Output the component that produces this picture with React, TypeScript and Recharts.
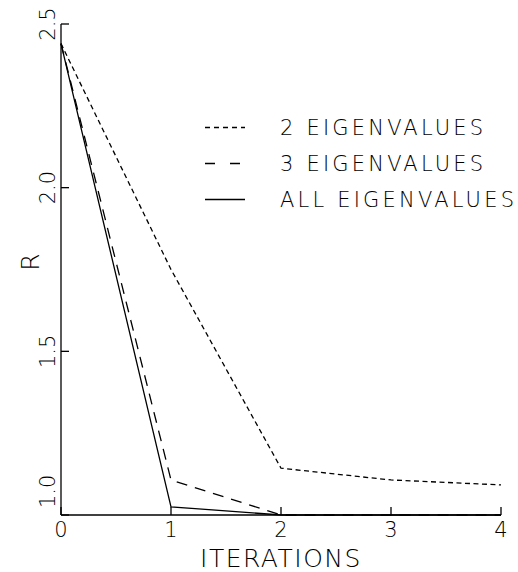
import React from 'react';
import { LineChart, Line, XAxis, YAxis, Customized } from 'recharts';

const iterations = [0, 1, 2, 3, 4];
const twoEigenvalues = [2.44, 1.75, 1.143, 1.107, 1.092];
const threeEigenvalues = [2.44, 1.107, 1.0, 1.0, 1.0];
const allEigenvalues = [2.44, 1.025, 1.0, 1.0, 1.0];
const xTicks = [0, 1, 2, 3, 4];
const yTicks = [1.0, 1.5, 2.0, 2.5];
const seriesNames = ['2 EIGENVALUES', '3 EIGENVALUES', 'ALL EIGENVALUES'];
const seriesKeys = ['two', 'three', 'all'];
const seriesDash = ['5 3.5', '11 8', undefined];
const legendDash = ['5 4', '10 15', undefined];

const data = iterations.map((it, i) => ({
  it,
  two: twoEigenvalues[i],
  three: threeEigenvalues[i],
  all: allEigenvalues[i],
}));

const FONT = '"DejaVu Sans", sans-serif';
const WEIGHT = 200;

const XTick = (props: any) => {
  const { x, y, payload } = props;
  return (
    <g>
      <line x1={x} y1={y} x2={x} y2={y - 8} stroke="#000" strokeWidth={1.3} />
      <text x={x} y={y + 22} textAnchor="middle" fontFamily={FONT} fontWeight={WEIGHT} fontSize={21} fill="#000">
        {String(payload.value)}
      </text>
    </g>
  );
};

const YTick = (props: any) => {
  const { x, y, payload, index } = props;
  const tx = x - 6;
  const first = index === 0;
  const ty = first ? y - 7 : y;
  return (
    <g>
      <line x1={x} y1={y} x2={x + 8} y2={y} stroke="#000" strokeWidth={1.3} />
      <text
        x={tx}
        y={ty}
        transform={`rotate(-90, ${tx}, ${ty})`}
        textAnchor={first ? 'start' : 'middle'}
        fontFamily={FONT}
        fontWeight={WEIGHT}
        fontSize={21}
        fill="#000"
      >
        {Number(payload.value).toFixed(1)}
      </text>
    </g>
  );
};

const LegendBlock = () => (
  <g>
    {seriesNames.map((name, i) => {
      const base = 135 + i * 36;
      return (
        <g key={name}>
          <line
            x1={205}
            x2={245}
            y1={base - 7.5}
            y2={base - 7.5}
            stroke="#000"
            strokeWidth={1.3}
            strokeDasharray={legendDash[i]}
          />
          <text x={280} y={base} fontFamily={FONT} fontWeight={WEIGHT} fontSize={21} letterSpacing={3.2} fill="#000">
            {name}
          </text>
        </g>
      );
    })}
  </g>
);

const YLabel = () => (
  <text
    x={39}
    y={262}
    transform="rotate(-90, 39, 262)"
    textAnchor="middle"
    fontFamily={FONT}
    fontWeight={WEIGHT}
    fontSize={25}
    fill="#000"
  >
    R
  </text>
);

export default function App() {
  return (
    <div style={{ position: 'absolute', left: 0, top: 0, width: 518, height: 572, background: '#fff' }}>
      <LineChart width={518} height={572} data={data} margin={{ top: 24, right: 17, left: 0, bottom: 0 }}>
        <XAxis
          dataKey="it"
          type="number"
          domain={[0, 4]}
          ticks={xTicks}
          tickSize={0}
          tickMargin={0}
          tickLine={false}
          tick={XTick}
          axisLine={{ stroke: '#000', strokeWidth: 1.3 }}
          height={57}
          label={{ value: 'ITERATIONS', position: 'insideBottom', offset: 5, fontFamily: FONT, fontWeight: WEIGHT, fontSize: 25, fill: '#000', letterSpacing: 1.5 }}
        />
        <YAxis
          type="number"
          domain={[1, 2.5]}
          ticks={yTicks}
          tickSize={0}
          tickMargin={0}
          tickLine={false}
          tick={YTick}
          axisLine={{ stroke: '#000', strokeWidth: 1.3 }}
          width={61}
        />
        {seriesKeys.map((k, i) => (
          <Line
            key={k}
            dataKey={k}
            name={seriesNames[i]}
            type="linear"
            stroke="#000"
            strokeWidth={1.3}
            strokeDasharray={seriesDash[i]}
            dot={false}
            activeDot={false}
            isAnimationActive={false}
          />
        ))}
        <Customized component={LegendBlock} />
        <Customized component={YLabel} />
      </LineChart>
    </div>
  );
}
